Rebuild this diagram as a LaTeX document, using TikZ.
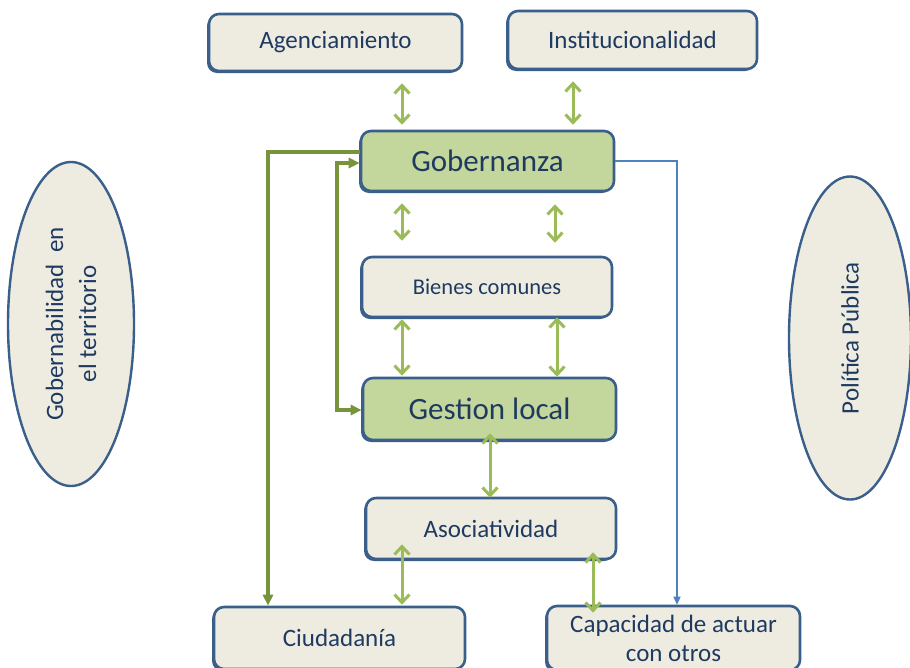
\documentclass[tikz,border=0pt]{standalone}
\usepackage{fontspec}
\setmainfont{Carlito}
\usetikzlibrary{arrows.meta,shapes.geometric,shadows}
\definecolor{bord}{HTML}{3A5F8B}
\definecolor{boxfill}{HTML}{EEECE1}
\definecolor{gfill}{HTML}{C3D69B}
\definecolor{txt}{HTML}{1F3A60}
\definecolor{lgreen}{HTML}{9BBB59}
\definecolor{dgreen}{HTML}{77933C}
\definecolor{lblue}{HTML}{4F81BD}
\tikzset{
  box/.style={draw=bord, line width=2.6pt, fill=boxfill, rounded corners=10pt,
    text=txt, font=\fontsize{25}{30}\selectfont, align=center,
    general shadow={shadow xshift=-2pt, shadow yshift=-2pt, fill=bord}},
  gbox/.style={box, fill=gfill, font=\fontsize{31}{36}\selectfont},
  oval/.style={ellipse, draw=bord, line width=2.4pt, fill=boxfill, text=txt,
    font=\fontsize{25}{33}\selectfont, align=center, inner sep=0pt},
  lg/.style={draw=lgreen, line width=3pt, {Straight Barb[length=8pt,width=15pt,line width=3pt]}-{Straight Barb[length=8pt,width=15pt,line width=3pt]}},
  dg/.style={draw=dgreen, line width=3.5pt},
  bl/.style={draw=lblue, line width=1.2pt, -{Triangle[length=8pt,width=7pt]}}
}
\begin{document}
\begin{tikzpicture}[x=1pt,y=-1pt]
\clip (0,0) rectangle (910,667);
\fill[white] (0,0) rectangle (910,667);

\node[oval, minimum width=126pt, minimum height=324pt] (gter) at (71,324) {};
\node[rotate=90, text=txt, font=\fontsize{25}{33}\selectfont, align=center] (gtert) at (gter.center) {Gobernabilidad~~en\\el territorio};
\node[oval, minimum width=122pt, minimum height=323pt] (pp) at (850,338) {};
\node[rotate=90, text=txt, font=\fontsize{25}{33}\selectfont] (ppt) at (pp.center) {Política Pública};

\node[box, minimum width=253pt, minimum height=57pt] (agen) at (335.5,42.5) {Agenciamiento};
\node[box, minimum width=249pt, minimum height=58pt] (inst) at (632.5,40) {Institucionalidad};
\node[gbox, minimum width=253pt, minimum height=60pt] (gob) at (487.5,161) {Gobernanza};
\node[box, minimum width=250pt, minimum height=60pt, font=\fontsize{22.5}{27}\selectfont] (bien) at (487,287) {Bienes comunes};
\node[gbox, minimum width=253pt, minimum height=62pt] (gest) at (489.5,409) {Gestion local};
\node[box, minimum width=250pt, minimum height=61pt] (asoc) at (491,528.5) {Asociatividad};
\node[box, minimum width=251pt, minimum height=62pt] (ciud) at (339.5,638) {Ciudadanía};
\node[box, minimum width=253pt, minimum height=64pt, font=\fontsize{25}{29}\selectfont] (capa) at (673.5,638) {Capacidad de actuar\\con otros};

% light green double arrows
\draw[lg, shorten <=11pt, shorten >=5pt] (agen.south -| 402,0) -- (gob.north -| 402,0);
\draw[lg, shorten <=11pt, shorten >=5pt] (inst.south -| 573,0) -- (gob.north -| 573,0);
\draw[lg, shorten <=11pt, shorten >=15pt] (gob.south -| 402,0) -- (bien.north -| 402,0);
\draw[lg, shorten <=12pt, shorten >=13pt] (gob.south -| 555,0) -- (bien.north -| 555,0);
\draw[lg, shorten <=1pt, shorten >=1pt] (bien.south -| 402,0) -- (gest.north -| 402,0);
\draw[lg, shorten <=-1pt, shorten >=0pt] (bien.south -| 557,0) -- (gest.north -| 557,0);
\draw[lg, shorten <=-8pt, shorten >=-1pt] (gest.south -| 490,0) -- (asoc.north -| 490,0);
\draw[lg, shorten <=-16pt, shorten >=1pt] (asoc.south -| 402,0) -- (ciud.north -| 402,0);
\draw[lg, shorten <=-8pt, shorten >=-8pt] (asoc.south -| 593,0) -- (capa.north -| 593,0);

% dark green connectors
\draw[dg, -{Triangle[length=11pt,width=10pt]}] ([yshift=9pt]gob.west) -| (ciud.north -| 268,0);
\draw[dg, {Triangle[length=11pt,width=10pt]}-{Triangle[length=11pt,width=10pt]}]
  ([yshift=-2pt]gob.west) -| (337,300) |- ([yshift=-1pt]gest.west);

% blue connector
\draw[bl] (gob.east) -| (capa.north -| 677,0);
\end{tikzpicture}
\end{document}
